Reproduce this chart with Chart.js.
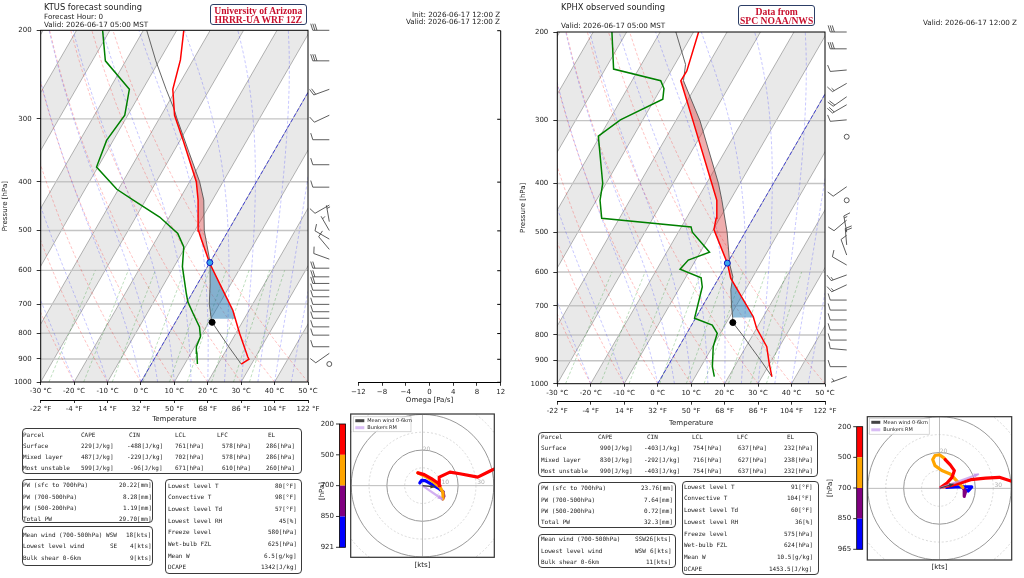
<!DOCTYPE html>
<html>
<head>
<meta charset="utf-8">
<title>Soundings KTUS / KPHX</title>
<script src="https://cdn.jsdelivr.net/npm/chart.js@4.4.1/dist/chart.umd.min.js"></script>
<style>
  body { margin: 0; background: #fff; }
  #wrap { position: relative; width: 1024px; height: 578px; overflow: hidden; font-family: 'DejaVu Sans', sans-serif; color: #222; }
  canvas { position: absolute; }
  .t { position: absolute; white-space: nowrap; line-height: 1; transform: translateY(-50%); will-change: transform; }
  .m { font-family: 'DejaVu Sans Mono', monospace; font-size: 6px; color: #222; }
  .box { position: absolute; border: 1.3px solid #3a3a3a; border-radius: 4px; box-sizing: border-box; }
  .badge { position: absolute; border: 1.4px solid #2c3e66; border-radius: 3px; box-sizing: border-box; background: #fff;
           color: #c8102e; font-family: 'Liberation Serif', serif; font-weight: bold; font-size: 9.6px; line-height: 9px;
           text-align: center; padding-top: 1px; }
</style>
</head>
<body>
<div id="wrap">
  <canvas id="skewL" width="345" height="424" style="left:0;top:0"></canvas>
  <canvas id="omega" width="200" height="410" style="left:340px;top:0"></canvas>
  <canvas id="skewR" width="345" height="428" style="left:515px;top:0"></canvas>
  <canvas id="hodoL" width="195" height="173" style="left:310px;top:405px"></canvas>
  <canvas id="hodoR" width="199" height="173" style="left:825px;top:405px"></canvas>
</div>
<script>
// ---- KTUS forecast (left) ----
const tempPL = [921, 901, 891, 800, 720, 637, 580, 515, 501, 435, 400, 331, 295, 262, 229, 200];
const tempL  = [26.9, 28.4, 27.6, 21.1, 15.1, 6.5, 0.0, -7.2, -8.8, -14.3, -18.0, -29.1, -36.0, -41.0, -43.8, -47.9];
const dewPL  = [921, 877, 851, 813, 777, 730, 693, 667, 590, 539, 507, 470, 435, 414, 374, 331, 295, 262, 230, 200];
const dewL   = [13.8, 11.8, 10.5, 10.0, 8.0, 3.7, 0.2, -1.7, -7.5, -10.5, -14.6, -22.9, -33.7, -40.5, -50.4, -52.0, -50.9, -54.0, -66.1, -72.2];
const parcPL = [921, 850, 800, 761, 750, 700, 637, 578, 500, 435, 400, 350, 300, 286, 262, 230, 200];
const parcL  = [26.9, 20.1, 15.1, 11.0, 10.2, 7.0, 3.7, 0.0, -7.2, -12.6, -17.0, -25.2, -34.6, -37.4, -43.0, -51.0, -59.0];
const lclL = [761, 11.0], frzL = [579, 0.0];
const capeL = [578, 286], cinL = [749, 578];
const windPL = [200, 230, 262, 295, 330, 370, 410, 445, 480, 500, 520, 545, 570, 594, 618, 637, 657, 677, 701, 725, 747, 777, 807, 851, 877, 921];
const windDL = [270, 270, 250, 245, 270, 270, 270, 240, 350, 330, 300, 320, 290, 270, 270, 270, 270, 270, 270, 270, 270, 270, 270, 270, 235, 0];
const windSL = [30, 30, 20, 10, 10, 10, 10, 10, 5, 5, 10, 10, 10, 20, 20, 20, 10, 10, 10, 10, 10, 10, 10, 10, 10, 0];

// ---- KPHX observed (right) ----
const tempPR = [968, 911, 844, 776, 736, 682, 617, 576, 494, 469, 432, 400, 300, 250, 239, 200];
const tempR  = [32.9, 29.8, 26.2, 20.0, 17.0, 11.2, 3.6, 0.0, -9.8, -11.1, -14.0, -18.4, -34.9, -45.4, -45.3, -48.5];
const dewPR  = [968, 925, 844, 794, 765, 741, 642, 616, 592, 568, 548, 500, 488, 469, 432, 400, 322, 299, 272, 259, 250, 237, 200];
const dewR   = [15.7, 13.4, 10.2, 9.1, 6.2, -0.3, -3.4, -5.3, -13.1, -12.2, -7.2, -15.8, -17.1, -45.3, -48.9, -51.0, -60.5, -56.7, -47.6, -49.1, -51.4, -67.5, -74.4];
const parcPR = [968, 900, 850, 800, 756, 739, 700, 650, 613, 580, 500, 431, 400, 300, 250, 232, 200];
const parcR  = [32.9, 26.9, 22.0, 16.9, 11.9, 11.0, 8.6, 5.6, 4.0, 1.0, -5.4, -12.6, -16.4, -32.8, -44.6, -46.8, -55.3];
const lclR = [756, 11.9], frzR = [576, 0.0];
const capeR = [617, 250], cinR = [739, 617];
const windPR = [200, 216, 238, 253, 269, 279, 299, 323, 406, 432, 473, 500, 530, 555, 581, 608, 636, 682, 714, 747, 782, 819, 857, 925, 968];
const windDR = [270, 270, 265, 240, 235, 240, 265, 0, 235, 0, 230, 350, 355, 340, 300, 250, 245, 270, 270, 270, 270, 270, 275, 270, 250];
const windSR = [30, 30, 10, 15, 20, 20, 10, 0, 10, 0, 10, 15, 20, 10, 10, 15, 15, 10, 10, 10, 10, 10, 10, 10, 5];

// hodographs (u, v in kts), one list per layer
const hodoBlueL = [[-1.5, 1.5], [-0.5, 3.0], [1.5, 2.8], [5, 0.8], [9, -1.5], [11.5, -3.5]];
const hodoPurpL = [[11.5, -3.5], [12, -6], [11.3, -7.4]];
const hodoOranL = [[11.3, -7.4], [11.5, -4], [10, -1], [6, 2.2], [2, 5], [-2.6, 7.2]];
const hodoRedL  = [[-2.6, 7.2], [1, 6.2], [5, 4], [9, 1.2], [9.8, 0], [9.4, 4.8], [15.4, 7.6], [21, 6.7], [31, 4.8], [38.5, 8.5], [44, 11]];
const meanL = [7, -0.7], rmL = [11.3, -7.8];
const hodoBlueR = [[4, 0.5], [9, 0.8], [14, 0.9], [18, 0.8], [16, -1.5], [14, -1.0]];
const hodoPurpR = [[14, -1.0], [13.8, -4.5], [14.5, -2], [13, 0.5]];
const hodoOranR = [[13, 0.5], [6, 8.1], [1.3, 10], [-2.5, 12.8], [-3.8, 16.2], [-2.5, 18.5], [0, 18.9], [2.6, 17], [3.2, 16.2]];
const hodoRedR  = [[3.2, 16.2], [6, 13.2], [8.3, 10], [7, 6.2], [4.2, 3], [0.8, 0.6], [6, 1.5], [11.7, 3], [17.4, 4.9], [25.8, 5.7], [33.4, 6.2], [42, 3.4]];
const meanR = [7.9, 2.5], rmR = [22, 8.1];
const cbLabelsL = ['200', '500', '700', '850', '921'];
const cbLabelsR = ['200', '500', '700', '850', '965'];

// tables
const parcelHead = ['Parcel', 'CAPE', 'CIN', 'LCL', 'LFC', 'EL'];
const parcelL = [['Surface', 229, -488, 761, 578, 286], ['Mixed layer', 487, -229, 702, 578, 286], ['Most unstable', 599, -96, 671, 610, 260]];
const parcelR = [['Surface', 990, -403, 754, 637, 232], ['Mixed layer', 830, -292, 716, 627, 238], ['Most unstable', 990, -403, 754, 637, 232]];
const pwNames = ['PW (sfc to 700hPa)', 'PW (700-500hPa)', 'PW (500-200hPa)', 'Total PW'];
const pwL = ['20.22[mm]', '8.28[mm]', '1.19[mm]', '29.70[mm]'];
const pwR = ['23.76[mm]', '7.64[mm]', '0.72[mm]', '32.3[mm]'];
const windNames = ['Mean wind (700-500hPa)', 'Lowest level wind', 'Bulk shear 0-6km'];
const windTabL = [['WSW', '18[kts]'], ['SE', '4[kts]'], ['', '9[kts]']];
const windTabR = [['SSW', '26[kts]'], ['WSW', '6[kts]'], ['', '11[kts]']];
const thermoNames = ['Lowest level T', 'Convective T', 'Lowest level Td', 'Lowest level RH', 'Freeze level', 'Wet-bulb FZL', 'Mean W', 'DCAPE'];
const thermoL = ['80[°F]', '98[°F]', '57[°F]', '45[%]', '580[hPa]', '625[hPa]', '6.5[g/kg]', '1342[J/kg]'];
const thermoR = ['91[°F]', '104[°F]', '60[°F]', '36[%]', '575[hPa]', '624[hPa]', '10.5[g/kg]', '1453.5[J/kg]'];

const pTicks = [200, 300, 400, 500, 600, 700, 800, 900, 1000];

Chart.defaults.font.family = "'DejaVu Sans', sans-serif";
Chart.defaults.font.size = 7;
Chart.defaults.color = '#222';
Chart.defaults.elements.point.radius = 0;
Chart.defaults.elements.line.tension = 0;

// skew: isotherms lean 30 degrees on screen
const SKEW = Math.tan(Math.PI / 6) * (351.7 / Math.log(5)) / (267.5 / 80);
const sx = (t, p) => t + SKEW * Math.log(1000 / p);
const pt = (t, p) => ({ x: sx(t, p), y: p });
const prof = (ps, ts) => ps.map((p, i) => pt(ts[i], p));

function interpT(ps, ts, p) {
  for (let i = 0; i < ps.length - 1; i++) {
    if (p <= ps[i] && p >= ps[i + 1]) {
      const f = Math.log(ps[i] / p) / Math.log(ps[i] / ps[i + 1]);
      return ts[i] + f * (ts[i + 1] - ts[i]);
    }
  }
  return ts[ts.length - 1];
}
// closed shape between environment and parcel, pBot..pTop
function between(ps, ts, qs, us, pBot, pTop) {
  const out = [pt(interpT(ps, ts, pBot), pBot)];
  ps.forEach((p, i) => { if (p < pBot && p > pTop) out.push(pt(ts[i], p)); });
  out.push(pt(interpT(ps, ts, pTop), pTop));
  out.push(pt(interpT(qs, us, pTop), pTop));
  for (let i = qs.length - 1; i >= 0; i--) if (qs[i] < pBot && qs[i] > pTop) out.push(pt(us[i], qs[i]));
  out.push(pt(interpT(qs, us, pBot), pBot));
  return out;
}

function esat(tc) { return 6.112 * Math.exp(17.67 * tc / (tc + 243.5)); }
function moistSlope(p, T) {
  const es = esat(T - 273.15), rs = 0.622 * es / (p - es);
  return (287.04 * T + 2.501e6 * rs) / (p * (1005.7 + 2.501e6 * 2.501e6 * rs * 0.622 / (287.04 * T * T)));
}

function background() {
  const ds = [];
  const line = (data, color, w, dash) => ({ data, borderColor: color, borderWidth: w, borderDash: dash || [] });
  for (let t = -100; t <= 40; t += 20) {
    ds.push({ data: [pt(t, 1000), pt(t + 10, 1000), pt(t + 10, 200), pt(t, 200), pt(t, 1000)],
              fill: 'shape', backgroundColor: 'rgba(0,0,0,0.085)', borderColor: 'transparent', borderWidth: 0 });
  }
  for (let t = -100; t <= 50; t += 10) ds.push(line([pt(t, 1000), pt(t, 200)], 'rgba(0,0,0,0.32)', 0.9));
  for (let p = 300; p <= 900; p += 100) ds.push(line([{ x: -30, y: p }, { x: 50, y: p }], '#c4c4c4', 1.4));
  for (let t0 = -30; t0 <= 50; t0 += 10) {
    const d = [];
    for (let p = 1000; p >= 200; p -= 25) d.push(pt((t0 + 273.15) * Math.pow(p / 1000, 0.2857) - 273.15, p));
    ds.push(line(d, 'rgba(255,0,0,0.3)', 0.8, [3, 2]));
  }
  [-30, -20, -10, 0, 5, 10, 15, 20, 25, 30, 35, 40, 45, 50].forEach(t0 => {
    const d = [];
    let T = t0 + 273.15;
    for (let p = 1000; p >= 200; p -= 10) {
      d.push(pt(T - 273.15, p));
      const k1 = moistSlope(p, T), k2 = moistSlope(p - 5, T - 5 * k1);
      T -= 10 * k2;
    }
    ds.push(line(d, 'rgba(0,0,255,0.28)', 0.8, [3, 2]));
  });
  [0.0004, 0.001, 0.002, 0.004, 0.007, 0.01, 0.016, 0.024, 0.032].forEach(w => {
    const d = [];
    for (let p = 1000; p >= 600; p -= 20) {
      const l = Math.log(p * w / (0.622 + w) / 6.112);
      d.push(pt(243.5 * l / (17.67 - l), p));
    }
    ds.push(line(d, 'rgba(0,128,0,0.32)', 0.8, [3, 2]));
  });
  ds.push(line([pt(0, 1000), pt(0, 200)], 'rgba(40,40,220,0.8)', 1, [4, 2]));
  return ds;
}

function drawBarb(ctx, x, y, dir, spd) {
  const L = 16.5;
  if (spd < 2.5) { ctx.beginPath(); ctx.arc(x, y, 0.15 * L, 0, 2 * Math.PI); ctx.stroke(); return; }
  const r = dir * Math.PI / 180;
  const dx = Math.sin(r), dy = -Math.cos(r), ex = Math.cos(r), ey = Math.sin(r);
  const P = (a, b) => [x + dx * a + ex * b, y + dy * a + ey * b];
  let m = Math.round(spd / 5) * 5;
  const nf = Math.floor(m / 50); m -= nf * 50;
  const nb = Math.floor(m / 10); m -= nb * 10;
  const h = 0.4 * L, w = 0.25 * L, sp = 0.125 * L;
  ctx.beginPath(); ctx.moveTo(...P(0, 0)); ctx.lineTo(...P(L, 0)); ctx.stroke();
  let off = L;
  for (let i = 0; i < nf; i++) {
    ctx.beginPath(); ctx.moveTo(...P(off, 0)); ctx.lineTo(...P(off - w / 2, h)); ctx.lineTo(...P(off - w, 0)); ctx.fill();
    off -= w + sp;
  }
  for (let i = 0; i < nb; i++) {
    ctx.beginPath(); ctx.moveTo(...P(off, 0)); ctx.lineTo(...P(off + w / 2, h)); ctx.stroke();
    off -= sp;
  }
  if (m >= 5) {
    if (off === L) off -= 1.5 * sp;
    ctx.beginPath(); ctx.moveTo(...P(off, 0)); ctx.lineTo(...P(off + w / 4, h / 2)); ctx.stroke();
  }
}

function skewChart(id, c) {
  const ds = background();
  ds.push({ data: between(c.tp, c.t, c.pp, c.pt, c.cape[0], c.cape[1]), fill: 'shape', backgroundColor: 'rgba(214,39,40,0.38)', borderColor: 'transparent', borderWidth: 0 });
  ds.push({ data: between(c.tp, c.t, c.pp, c.pt, c.cin[0], c.cin[1]), fill: 'shape', backgroundColor: 'rgba(31,119,180,0.5)', borderColor: 'transparent', borderWidth: 0 });
  ds.push({ data: prof(c.pp, c.pt), borderColor: '#555', borderWidth: 0.9 });
  ds.push({ data: prof(c.tp, c.t), borderColor: '#ff0000', borderWidth: 1.5 });
  ds.push({ data: prof(c.dp, c.d), borderColor: '#008000', borderWidth: 1.5 });
  ds.push({ data: [pt(c.lcl[1], c.lcl[0])], showLine: false, pointRadius: 3, pointBackgroundColor: '#000', pointBorderColor: '#000' });
  ds.push({ data: [pt(c.frz[1], c.frz[0])], showLine: false, pointRadius: 3, pointBackgroundColor: '#36a6ee', pointBorderColor: '#1010c0', pointBorderWidth: 1 });
  ds.forEach((d, i) => { d.order = -i; d.clip = 0; });

  const deco = {
    id: 'deco',
    afterDatasetsDraw(chart) {
      const { ctx, chartArea: a, scales: { y } } = chart;
      ctx.save();
      ctx.strokeStyle = '#000'; ctx.lineWidth = 1;
      ctx.strokeRect(a.left, a.top, a.right - a.left, a.bottom - a.top);
      ctx.strokeStyle = '#333'; ctx.fillStyle = '#333'; ctx.lineWidth = 0.8;
      c.wp.forEach((p, i) => drawBarb(ctx, c.barbX, y.getPixelForValue(p), c.wd[i], c.ws[i]));
      ctx.restore();
    }
  };

  new Chart(document.getElementById(id), {
    type: 'line',
    data: { datasets: ds },
    options: {
      responsive: false, animation: false, events: [],
      layout: { padding: { left: 0, top: c.top, right: c.padR, bottom: 0 } },
      plugins: { legend: { display: false }, tooltip: { enabled: false } },
      scales: {
        x: { type: 'linear', position: 'bottom', min: -30, max: 50, weight: 0,
             afterFit: s => { s.height = 18; },
             border: { display: false },
             grid: { drawOnChartArea: false, tickLength: 3, color: '#000', lineWidth: 0.8 },
             ticks: { stepSize: 10, autoSkip: false, maxRotation: 0, padding: 2, callback: v => v + ' °C' } },
        x2: { type: 'linear', position: 'bottom', min: -30, max: 50, weight: 1,
              afterFit: s => { s.height = c.x2h; },
              border: { display: true, color: '#000', width: 1 },
              grid: { drawOnChartArea: false, tickLength: 3, color: '#000', lineWidth: 0.8 },
              ticks: { stepSize: 10, autoSkip: false, maxRotation: 0, padding: 2, callback: v => Math.round(v * 9 / 5 + 32) + ' °F' },
              title: { display: true, text: 'Temperature', padding: { top: 0, bottom: c.tpad }, font: { size: 7 } } },
        y: { type: 'logarithmic', position: 'left', min: 200, max: 1000, reverse: true,
             afterFit: s => { s.width = c.yw; },
             afterBuildTicks: s => { s.ticks = pTicks.map(v => ({ value: v })); },
             border: { display: false },
             grid: { drawOnChartArea: false, tickLength: 4, color: '#000', lineWidth: 0.8 },
             ticks: { padding: 5, autoSkip: false, callback: v => String(v) },
             title: { display: true, text: 'Pressure [hPa]', padding: { top: c.ypad, bottom: 0 }, font: { size: 7 } } }
      }
    },
    plugins: [deco]
  });
}

skewChart('skewL', { tp: tempPL, t: tempL, dp: dewPL, d: dewL, pp: parcPL, pt: parcL, lcl: lclL, frz: frzL,
  cape: capeL, cin: cinL, wp: windPL, wd: windDL, ws: windSL, barbX: 329.3,
  top: 30.3, padR: 37, yw: 40.7, x2h: 24, tpad: 0.3, ypad: 1.1 });
skewChart('skewR', { tp: tempPR, t: tempR, dp: dewPR, d: dewR, pp: parcPR, pt: parcR, lcl: lclR, frz: frzR,
  cape: capeR, cin: cinR, wp: windPR, wd: windDR, ws: windSR, barbX: 331.7,
  top: 32, padR: 35, yw: 42.3, x2h: 26.3, tpad: 0.8, ypad: 3.5 });

// omega panel (empty axes)
new Chart(document.getElementById('omega'), {
  type: 'line',
  data: { datasets: [] },
  options: {
    responsive: false, animation: false, events: [],
    layout: { padding: { left: 18.3, top: 30.7, right: 39.3, bottom: 0 } },
    plugins: { legend: { display: false }, tooltip: { enabled: false } },
    scales: {
      x: { type: 'linear', min: -12, max: 12,
           afterFit: s => { s.height = 27.7; },
           border: { display: true, color: '#000', width: 1 },
           grid: { drawOnChartArea: false, tickLength: 3.5, color: '#000', lineWidth: 0.8 },
           ticks: { stepSize: 4, autoSkip: false, maxRotation: 0, padding: 2, callback: v => v < 0 ? '\u2212' + Math.abs(v) : String(v) },
           title: { display: true, text: 'Omega [Pa/s]', padding: { top: 0, bottom: 5.8 }, font: { size: 7 } } },
      y: { type: 'logarithmic', min: 200, max: 1000, reverse: true, display: false }
    }
  },
  plugins: [{
    id: 'omegaSpine',
    afterDraw(chart) {
      const { ctx, chartArea: a, scales: { y } } = chart;
      ctx.save(); ctx.strokeStyle = '#000'; ctx.lineWidth = 1;
      ctx.beginPath(); ctx.moveTo(a.right, a.top); ctx.lineTo(a.right, a.bottom);
      pTicks.forEach(p => { const yy = y.getPixelForValue(p); ctx.moveTo(a.right - 3.5, yy); ctx.lineTo(a.right, yy); });
      ctx.stroke(); ctx.restore();
    }
  }]
});

function arrowHead(ctx, x0, y0, x1, y1, color, size) {
  const ang = Math.atan2(y1 - y0, x1 - x0);
  ctx.fillStyle = color; ctx.beginPath();
  ctx.moveTo(x1, y1);
  ctx.lineTo(x1 - size * Math.cos(ang) + size * 0.45 * Math.sin(ang), y1 - size * Math.sin(ang) - size * 0.45 * Math.cos(ang));
  ctx.lineTo(x1 - size * Math.cos(ang) - size * 0.45 * Math.sin(ang), y1 - size * Math.sin(ang) + size * 0.45 * Math.cos(ang));
  ctx.closePath(); ctx.fill();
}

function hodoChart(id, c) {
  const layer = (pts, color) => ({ data: pts.map(([u, v]) => ({ x: u, y: v })), borderColor: color, borderWidth: 3.2,
                                  borderCapStyle: 'round', borderJoinStyle: 'round' });
  const ds = [layer(c.blue, '#0000ff'), layer(c.purple, '#800080'), layer(c.orange, '#ffa500'), layer(c.red, '#ff0000'),
    { data: [{ x: 0, y: 0 }, { x: c.rm[0], y: c.rm[1] }], borderColor: 'rgba(195,150,235,0.75)', borderWidth: 2.2 },
    { data: [{ x: 0, y: 0 }, { x: c.mean[0], y: c.mean[1] }], borderColor: '#3c3c3c', borderWidth: 1.1 }];
  ds.forEach((d, i) => { d.order = -i; d.clip = 0; });
  const R = 40.3;
  new Chart(document.getElementById(id), {
    type: 'line',
    data: { datasets: ds },
    options: {
      responsive: false, animation: false, events: [],
      layout: { padding: c.pad },
      plugins: { legend: { display: false }, tooltip: { enabled: false } },
      scales: { x: { type: 'linear', min: -R, max: R, display: false }, y: { type: 'linear', min: -R, max: R, display: false } }
    },
    plugins: [{
      id: 'hodoDeco',
      beforeDatasetsDraw(chart) {
        const { ctx, chartArea: a, scales: { x, y } } = chart;
        const cx = x.getPixelForValue(0), cy = y.getPixelForValue(0);
        ctx.save();
        ctx.beginPath(); ctx.rect(a.left, a.top, a.right - a.left, a.bottom - a.top); ctx.clip();
        [10, 20, 30, 40, 50, 60].forEach(k => {
          const r = x.getPixelForValue(k) - cx;
          ctx.beginPath();
          ctx.setLineDash(k % 20 ? [2, 2] : []);
          ctx.strokeStyle = k % 20 ? '#cfcfcf' : '#999';
          ctx.lineWidth = k % 20 ? 0.8 : 1;
          ctx.arc(cx, cy, r, 0, 2 * Math.PI); ctx.stroke();
        });
        ctx.setLineDash([]); ctx.strokeStyle = '#aaa'; ctx.lineWidth = 0.8;
        ctx.beginPath(); ctx.moveTo(a.left, cy); ctx.lineTo(a.right, cy); ctx.moveTo(cx, a.top); ctx.lineTo(cx, a.bottom); ctx.stroke();
        ctx.fillStyle = '#b0b0b0'; ctx.font = "6px 'DejaVu Sans'"; ctx.textAlign = 'center'; ctx.textBaseline = 'middle';
        [10, 20, 30, 40].forEach(k => {
          const r = x.getPixelForValue(k) - cx;
          if (k % 20) ctx.fillText(String(k), cx + r + 5, cy - 3);
          else ctx.fillText(String(k), cx + 4, cy - r - 1);
        });
        ctx.restore();
      },
      afterDatasetsDraw(chart) {
        const { ctx, chartArea: a, scales: { x, y } } = chart;
        const cx = x.getPixelForValue(0), cy = y.getPixelForValue(0);
        ctx.save();
        arrowHead(ctx, cx, cy, x.getPixelForValue(c.rm[0]), y.getPixelForValue(c.rm[1]), 'rgba(195,150,235,0.85)', 5);
        arrowHead(ctx, cx, cy, x.getPixelForValue(c.mean[0]), y.getPixelForValue(c.mean[1]), '#3c3c3c', 4.5);
        ctx.strokeStyle = '#333'; ctx.lineWidth = 1.2;
        ctx.strokeRect(a.left, a.top, a.right - a.left, a.bottom - a.top);
        // legend
        const L = c.leg;
        ctx.fillStyle = 'rgba(255,255,255,0.85)'; ctx.strokeStyle = '#ccc'; ctx.lineWidth = 0.8;
        ctx.fillRect(L.x, L.y, L.w, L.h); ctx.strokeRect(L.x, L.y, L.w, L.h);
        ctx.fillStyle = '#444'; ctx.fillRect(L.x + 2, L.y + 2.5, 9, 3);
        ctx.fillStyle = 'rgba(200,160,240,0.7)'; ctx.fillRect(L.x + 2, L.y + L.h / 2 + 2, 9, 3);
        ctx.fillStyle = '#222'; ctx.font = "5px 'DejaVu Sans'"; ctx.textBaseline = 'middle'; ctx.textAlign = 'left';
        ctx.fillText('Mean wind 0-6km', L.x + 14, L.y + 4);
        ctx.fillText('Bunkers RM', L.x + 14, L.y + L.h / 2 + 3.5);
        // colour bar
        const B = c.cb, seg = B.h / 4;
        ['#ff0000', '#ffa500', '#800080', '#0000ff'].forEach((col, i) => { ctx.fillStyle = col; ctx.fillRect(B.x, B.y + i * seg, B.w, seg); });
        ctx.strokeStyle = '#000'; ctx.lineWidth = 0.8; ctx.strokeRect(B.x, B.y, B.w, B.h);
        ctx.fillStyle = '#222'; ctx.font = "7px 'DejaVu Sans'"; ctx.textAlign = 'right';
        c.cbLabels.forEach((s, i) => {
          const yy = B.y + i * seg;
          ctx.beginPath(); ctx.moveTo(B.x - 3.5, yy); ctx.lineTo(B.x, yy); ctx.stroke();
          ctx.fillText(s, B.x - 5.5, yy);
        });
        ctx.save(); ctx.translate(c.hpa[0], c.hpa[1]); ctx.rotate(-Math.PI / 2); ctx.textAlign = 'center';
        ctx.fillText('[hPa]', 0, 0); ctx.restore();
        ctx.textAlign = 'center';
        ctx.fillText('[kts]', (a.left + a.right) / 2, a.bottom + 7.5);
        ctx.restore();
      }
    }]
  });
}

hodoChart('hodoL', { blue: hodoBlueL, purple: hodoPurpL, orange: hodoOranL, red: hodoRedL, mean: meanL, rm: rmL,
  pad: { left: 40.7, right: 10.7, top: 9, bottom: 20.7 }, cbLabels: cbLabelsL,
  cb: { x: 29.5, y: 19, w: 6, h: 123.3 }, hpa: [11.7, 86], leg: { x: 43.3, y: 11.7, w: 57.7, h: 15 } });
hodoChart('hodoR', { blue: hodoBlueR, purple: hodoPurpR, orange: hodoOranR, red: hodoRedR, mean: meanR, rm: rmR,
  pad: { left: 42.3, right: 12.3, top: 11.7, bottom: 18 }, cbLabels: cbLabelsR,
  cb: { x: 31.7, y: 21.7, w: 6, h: 122.6 }, hpa: [5, 83], leg: { x: 44.3, y: 13.3, w: 60, h: 16 } });

// ---- text, badges and tables ----
const wrap = document.getElementById('wrap');
function put(s, x, cy, size, right, cls) {
  const d = document.createElement('div');
  d.className = 't' + (cls ? ' ' + cls : '');
  d.textContent = s;
  if (right) d.style.right = (1024 - x) + 'px'; else d.style.left = x + 'px';
  d.style.top = cy + 'px';
  if (size) d.style.fontSize = size + 'px';
  wrap.appendChild(d);
}
function box(x, y, w, h, cls, html) {
  const d = document.createElement('div');
  d.className = cls || 'box';
  Object.assign(d.style, { left: x + 'px', top: y + 'px', width: w + 'px', height: h + 'px' });
  if (html) d.innerHTML = html;
  wrap.appendChild(d);
}

put('KTUS forecast sounding', 44.3, 6.7, 8.3);
put('Forecast Hour: 0', 44.3, 17.3, 7.2);
put('Valid: 2026-06-17 05:00 MST', 44.3, 24.5, 7.2);
box(210, 4, 96.5, 20.5, 'badge', 'University of Arizona<br>HRRR-UA WRF 12Z');
put('Init: 2026-06-17 12:00 Z', 500, 14.7, 7.2, true);
put('Valid: 2026-06-17 12:00 Z', 500, 22.3, 7.2, true);
put('KPHX observed sounding', 560.7, 7.3, 8.3);
put('Valid: 2026-06-17 05:00 MST', 560.7, 26, 7.2);
box(738.3, 5, 76.7, 21, 'badge', 'Data from<br>SPC NOAA/NWS');
put('Valid: 2026-06-17 12:00 Z', 1017, 23.3, 7.2, true);

function tables(T, parcel, pw, wind, thermo) {
  box(...T.t1.box);
  parcelHead.forEach((h, i) => put(h, T.t1.hx[i], T.t1.rows[0], 0, false, 'm'));
  const units = ['[J/kg]', '[J/kg]', '[hPa]', '[hPa]', '[hPa]'];
  parcel.forEach((r, j) => {
    const cy = T.t1.rows[j + 1];
    put(r[0], T.t1.hx[0], cy, 0, false, 'm');
    for (let i = 1; i < 6; i++) put(r[i] + units[i - 1], T.t1.vr[i - 1], cy, 0, true, 'm');
  });
  box(...T.t2.box);
  pwNames.forEach((n, j) => { put(n, T.t2.lx, T.t2.rows[j], 0, false, 'm'); put(pw[j], T.t2.vr, T.t2.rows[j], 0, true, 'm'); });
  box(...T.t3.box);
  windNames.forEach((n, j) => {
    put(n, T.t3.lx, T.t3.rows[j], 0, false, 'm');
    if (wind[j][0]) put(wind[j][0], T.t3.dr, T.t3.rows[j], 0, true, 'm');
    put(wind[j][1], T.t3.vr, T.t3.rows[j], 0, true, 'm');
  });
  box(...T.t4.box);
  thermoNames.forEach((n, j) => {
    const cy = T.t4.y0 + j * T.t4.dy;
    put(n, T.t4.lx, cy, 0, false, 'm'); put(thermo[j], T.t4.vr, cy, 0, true, 'm');
  });
}
tables({
  t1: { box: [21.7, 428.3, 280, 46], rows: [434.8, 446, 457.2, 468.4], hx: [23.3, 81, 129, 175, 216.7, 268], vr: [113.3, 163, 204, 250.7, 295] },
  t2: { box: [21.7, 479.3, 131.6, 43.4], rows: [485.3, 496.5, 507.7, 518.5], lx: 23.3, vr: 151.7 },
  t3: { box: [21.7, 526, 131.6, 40], rows: [535, 546.3, 557.6], lx: 23.3, dr: 117, vr: 151.7 },
  t4: { box: [165, 479.3, 136.7, 94.7], y0: 485.7, dy: 11.65, lx: 167.7, vr: 296.7 }
}, parcelL, pwL, windTabL, thermoL);
tables({
  t1: { box: [538.3, 431.7, 280, 45], rows: [436.7, 448.3, 460, 471.3], hx: [540.7, 597.7, 646.7, 691.7, 737.3, 786.7], vr: [633, 680, 721.7, 766.7, 812.7] },
  t2: { box: [538.3, 481.7, 137.4, 46], rows: [488.3, 500, 510.7, 522.3], lx: 540.7, vr: 673.3 },
  t3: { box: [538.3, 534, 137.4, 33.7], rows: [539.3, 550.7, 562.3], lx: 540.7, dr: 646, vr: 671.7 },
  t4: { box: [682.3, 481, 136.7, 94], y0: 486.7, dy: 11.75, lx: 684.3, vr: 812.7 }
}, parcelR, pwR, windTabR, thermoR);
</script>
</body>
</html>
